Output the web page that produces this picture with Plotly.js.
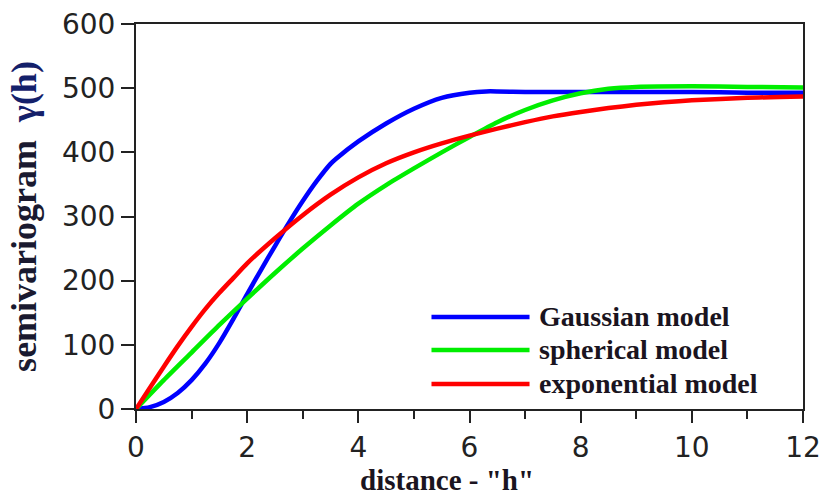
<!DOCTYPE html>
<html>
<head>
<meta charset="utf-8">
<script src="https://cdn.plot.ly/plotly-3.0.1.min.js"></script>
<style>html,body{margin:0;padding:0;background:#fff;}#chart{width:825px;height:498px;}</style>
</head>
<body>
<div id="chart"></div>
<script>
// ---- data ----
const seriesNames = ["Gaussian model", "spherical model", "exponential model"];
const seriesColors = ["#0000ff", "#00ee00", "#ff0000"];

const gaussX = [0, 0.25, 0.5, 0.75, 1.0, 1.25, 1.5, 1.75, 2.0, 2.25, 2.5, 2.75, 3.0, 3.25, 3.5, 3.6, 4.0, 4.5, 5.0, 5.5, 6.0, 6.3, 6.5, 7, 8, 9, 10, 11, 12];
const gaussY = [0, 3, 11, 25, 45, 71, 103, 140, 179, 217, 254, 290, 324, 355, 382, 390, 417, 445, 468, 485, 493, 495, 495, 494, 494, 494, 494, 493, 493];

const spherX = [0, 0.5, 1.0, 1.5, 2.0, 2.5, 3.0, 3.5, 4.0, 4.5, 5.0, 5.5, 6.0, 6.5, 7.0, 7.5, 8.0, 8.5, 9.0, 10, 11, 12];
const spherY = [0, 45, 88, 131, 172, 212, 250, 286, 320, 349, 375, 400, 424, 447, 466, 481, 492, 499, 502, 503, 502, 501];

const expoX = [0, 0.25, 0.5, 0.75, 1.0, 1.25, 1.5, 1.75, 2.0, 2.5, 3.0, 3.5, 4.0, 4.5, 5.0, 5.5, 6.0, 6.5, 7.0, 7.5, 8.0, 8.5, 9.0, 9.5, 10, 11, 12];
const expoY = [0, 33, 66, 98, 128, 156, 181, 204, 227, 266, 302, 334, 361, 383, 400, 414, 426, 437, 447, 456, 463, 469, 474, 478, 481, 485, 487];

const xTicks = [0, 2, 4, 6, 8, 10, 12];
const yTicks = [0, 100, 200, 300, 400, 500, 600];
const xTitle = 'distance - "h"';
const yTitleMain = 'semivariogram';
const yTitleSymbol = 'γ(h)';

// ---- figure ----
const xs = [gaussX, spherX, expoX];
const ys = [gaussY, spherY, expoY];
const traces = xs.map((x, i) => ({
  x: x, y: ys[i], type: "scatter", mode: "lines", name: seriesNames[i],
  line: {color: seriesColors[i], width: 4.5, shape: "spline", smoothing: 0.7},
  showlegend: false, hoverinfo: "skip"
}));

const axisCol = "#222222";
const tickFont = {family: "DejaVu Sans, Verdana, sans-serif", size: 28, color: "#222222"};
const serifBold = "Liberation Serif, Times New Roman, serif";

// custom legend with long line samples (paper coordinates)
const legRowsY = [0.239, 0.153, 0.065];
const shapes = seriesNames.map((n, i) => ({
  type: "line", xref: "paper", yref: "paper",
  x0: 0.443, x1: 0.590, y0: legRowsY[i], y1: legRowsY[i],
  line: {color: seriesColors[i], width: 4.5}
}));
const annotations = seriesNames.map((n, i) => ({
  xref: "paper", yref: "paper", x: 0.601, y: legRowsY[i] + 0.002,
  xanchor: "left", yanchor: "middle", showarrow: false,
  text: "<b>" + n + "</b>",
  font: {family: serifBold, size: 28, color: "#1a1420"}
}));
annotations.push({
  xref: "paper", yref: "paper", x: 0.466, y: -0.2312, xanchor: "center", yanchor: "bottom",
  showarrow: false, text: "<b>" + xTitle + "</b>",
  font: {family: serifBold, size: 29, color: "#1a1420"}
});

const layout = {
  width: 825, height: 498,
  margin: {l: 136, r: 22, t: 24, b: 89},
  paper_bgcolor: "#ffffff", plot_bgcolor: "#ffffff",
  showlegend: false,
  xaxis: {
    range: [0, 12], tickvals: xTicks, ticktext: xTicks.map(String),
    showgrid: false, zeroline: false,
    showline: true, linecolor: axisCol, linewidth: 2, mirror: true,
    ticks: "outside", ticklen: 12, tickwidth: 2, tickcolor: axisCol,
    minor: {dtick: 1, tick0: 0, ticks: "outside", ticklen: 8, tickwidth: 2, tickcolor: axisCol, showgrid: false},
    tickfont: tickFont, fixedrange: true
  },
  yaxis: {
    range: [0, 600], tickvals: yTicks, ticktext: yTicks.map(String),
    showgrid: false, zeroline: false,
    showline: true, linecolor: axisCol, linewidth: 2, mirror: true,
    ticks: "outside", ticklen: 13, tickwidth: 2, tickcolor: axisCol,
    tickfont: tickFont, fixedrange: true,
    title: {text: "<b>" + yTitleMain + "  <span style='color:#14206a'>" + yTitleSymbol + "</span></b>", font: {family: serifBold, size: 36, color: "#1a1a30"}, standoff: 14}
  },
  shapes: shapes,
  annotations: annotations
};

Plotly.newPlot("chart", traces, layout, {displayModeBar: false, staticPlot: true});
</script>
</body>
</html>
